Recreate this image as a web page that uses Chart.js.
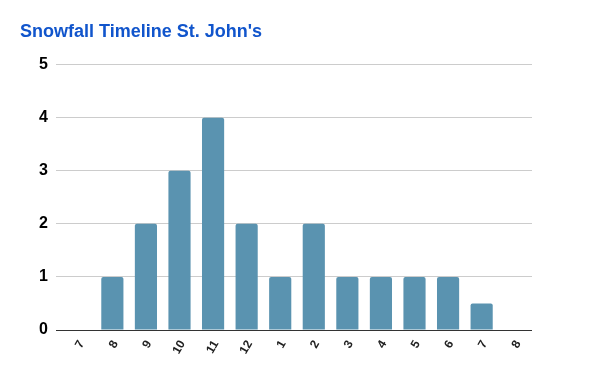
<!DOCTYPE html>
<html>
<head>
<meta charset="utf-8">
<script src="https://cdn.jsdelivr.net/npm/chart.js@4"></script>
<style>
  html, body { margin: 0; padding: 0; background: #fff; }
  #wrap { width: 600px; height: 371px; }
</style>
</head>
<body>
<div id="wrap"><canvas id="snowChart" width="600" height="371"></canvas></div>
<script>
// months (Jul -> Aug of next year)
const months = ['7', '8', '9', '10', '11', '12', '1', '2', '3', '4', '5', '6', '7', '8'];
const snowfall = [0, 1, 2, 3, 4, 2, 1, 2, 1, 1, 1, 1, 0.5, 0];
const yTicks = [0, 1, 2, 3, 4, 5];

const ctx = document.getElementById('snowChart').getContext('2d');
new Chart(ctx, {
  type: 'bar',
  data: {
    labels: months,
    datasets: [{
      label: 'Snowfall',
      data: snowfall,
      backgroundColor: '#5a93b0',
      borderRadius: { topLeft: 2, topRight: 2 },
      borderSkipped: 'bottom',
      barPercentage: 0.66,
      categoryPercentage: 1
    }]
  },
  options: {
    responsive: false,
    animation: false,
    layout: { padding: { left: 20, right: 68, bottom: 0, top: 0 } },
    plugins: {
      legend: { display: false },
      tooltip: { enabled: false },
      title: {
        display: true,
        text: "Snowfall Timeline St. John's",
        align: 'start',
        color: '#1155cc',
        font: { family: 'Liberation Sans', size: 18, weight: 'bold' },
        padding: { top: 21, bottom: 22 }
      }
    },
    scales: {
      x: {
        grid: { display: false },
        border: { display: false },
        ticks: {
          color: '#222',
          font: { family: 'Liberation Sans', size: 12, weight: 'bold' },
          minRotation: 60,
          maxRotation: 60,
          padding: 0,
          labelOffset: 3
        },
        afterFit: s => { s.height = 41; }
      },
      y: {
        min: 0,
        max: 5,
        afterBuildTicks: s => { s.ticks = yTicks.map(v => ({ value: v })); },
        grid: {
          color: c => (c.tick && c.tick.value === 0) ? '#333333' : '#cccccc',
          lineWidth: 1,
          tickLength: 6,
          drawTicks: true
        },
        border: { display: false },
        ticks: {
          color: '#000',
          font: { family: 'Liberation Sans', size: 16, weight: 'bold' },
          padding: 8
        },
        afterFit: s => { s.width = 42; }
      }
    }
  }
});
</script>
</body>
</html>
